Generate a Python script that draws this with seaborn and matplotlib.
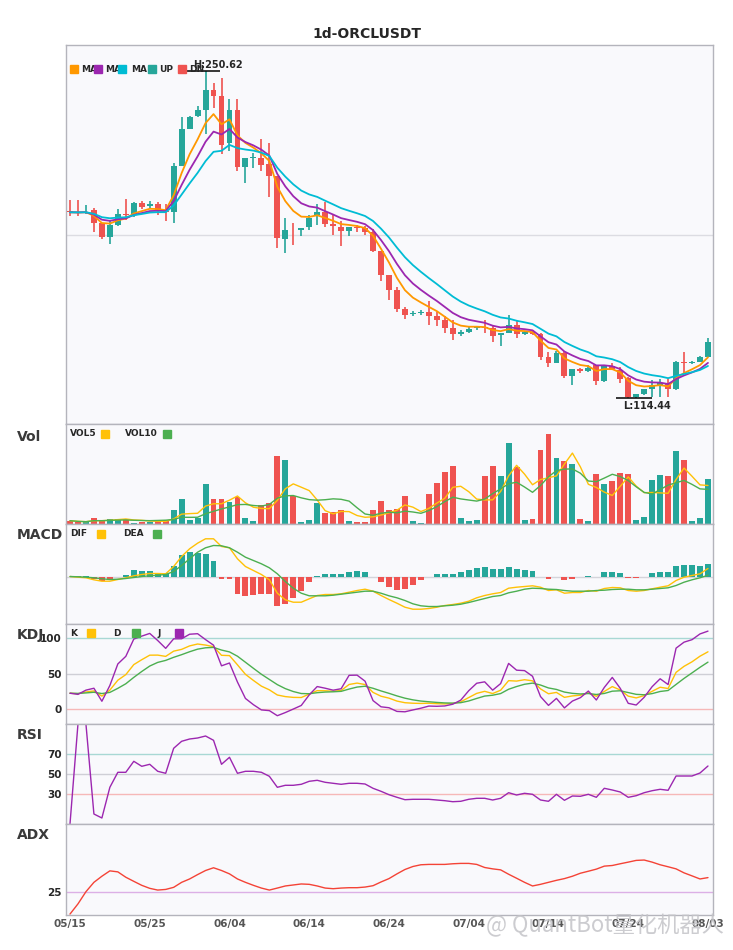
import numpy as np
import pandas as pd
import matplotlib
matplotlib.use("Agg")
import matplotlib.pyplot as plt
from matplotlib.patches import Rectangle
import seaborn as sns

sns.set_theme(style="white")
plt.rcParams["font.family"] = ["DejaVu Sans", "Noto Sans CJK SC"]

SYMBOL = "ORCLUSDT"
INTERVAL = "1d"
dates = pd.date_range("2025-05-15", "2025-08-03", freq="D")

# ---------------------------------------------------------------------------
# daily candles
# ---------------------------------------------------------------------------
opens = [192.2, 191.7, 191.5, 192.85, 187.3, 181.3, 186.6, 191.2, 191.1, 195.6,
         194.6, 195.2, 192.2, 192.1, 211.2, 226.7, 231.8, 234.6, 242.6, 240.2,
         220.7, 234.6, 210.5, 214.4, 214.4, 212.1, 206.8, 180.7, 184.5, 184.2,
         185.5, 190.5, 192.0, 187.1, 185.8, 184.1, 185.8, 185.2, 183.5, 175.7,
         165.7, 159.4, 151.4, 149.3, 149.8, 150.2, 148.6, 146.9, 143.6, 141.2,
         141.9, 143.4, 144.1, 143.4, 140.5, 141.3, 144.8, 140.9, 142.0, 140.9,
         131.3, 129.1, 133.3, 123.5, 126.4, 125.7, 128.1, 121.6, 127.7, 126.0,
         122.6, 114.6, 116.0, 118.1, 119.8, 120.2, 118.1, 129.5, 129.1, 129.5,
         131.6]
highs = [197.0, 197.0, 194.9, 193.6, 187.4, 188.7, 193.3, 197.3, 195.9, 196.7,
         196.6, 195.9, 195.4, 212.4, 231.6, 232.1, 236.0, 250.62, 245.8, 247.6,
         239.1, 238.8, 214.4, 216.5, 222.5, 220.7, 207.0, 189.4, 187.3, 185.3,
         190.8, 195.4, 195.9, 190.5, 188.3, 185.8, 186.6, 186.2, 184.8, 175.7,
         165.7, 160.8, 152.5, 150.8, 151.1, 154.8, 150.4, 148.6, 146.9, 142.9,
         143.9, 144.5, 146.9, 144.5, 141.4, 149.0, 146.6, 142.1, 142.7, 141.3,
         133.7, 134.1, 134.1, 126.4, 126.7, 128.0, 128.1, 128.3, 128.8, 127.2,
         123.0, 116.2, 118.3, 121.8, 122.1, 122.2, 129.9, 133.4, 129.9, 131.7,
         139.5]
lows = [190.3, 190.1, 191.2, 183.4, 180.7, 178.5, 185.9, 188.4, 189.8, 193.3,
        193.6, 190.6, 188.3, 187.5, 210.9, 226.3, 231.6, 224.6, 235.3, 216.2,
        217.5, 208.8, 204.0, 210.3, 209.1, 198.0, 177.1, 175.0, 178.2, 182.1,
        184.2, 186.3, 185.5, 182.4, 177.9, 181.7, 183.5, 182.3, 175.4, 163.3,
        155.3, 150.4, 147.3, 148.6, 149.0, 145.0, 144.5, 141.3, 138.6, 140.2,
        141.3, 142.6, 141.3, 137.6, 136.2, 141.3, 139.3, 140.8, 140.8, 130.2,
        127.4, 128.8, 122.8, 119.8, 124.9, 125.3, 119.8, 121.1, 126.0, 120.5,
        114.44, 114.5, 115.6, 114.6, 114.7, 114.9, 117.7, 124.9, 128.5, 129.2,
        131.3]
closes = [191.8, 191.5, 192.1, 187.3, 181.3, 186.6, 191.2, 190.6, 195.6, 194.2,
          195.2, 192.85, 191.8, 211.2, 226.7, 231.6, 234.6, 242.6, 240.2, 220.0,
          234.6, 210.5, 214.4, 214.8, 211.6, 206.8, 180.9, 184.5, 184.2, 185.2,
          189.6, 192.0, 187.1, 185.9, 184.1, 185.8, 185.2, 183.4, 175.7, 165.7,
          159.4, 151.6, 149.1, 150.0, 150.2, 148.7, 147.0, 143.6, 141.1, 141.9,
          143.2, 144.1, 143.6, 140.3, 141.3, 144.8, 141.1, 142.0, 140.9, 131.3,
          129.1, 133.3, 123.5, 126.4, 125.6, 126.7, 121.6, 128.1, 126.3, 122.3,
          114.6, 116.0, 118.1, 119.8, 120.5, 118.1, 129.5, 129.1, 129.5, 131.6,
          137.8]
# volume, relative units (the chart carries no scale)
volume = [3.3, 2.0, 1.7, 6.3, 3.3, 5.3, 5.3, 5.0, 1.3, 1.5,
          1.7, 4.3, 4.3, 13.7, 25.3, 4.3, 6.0, 40.3, 25.3, 25.3,
          22.3, 26.7, 6.3, 3.3, 19.0, 21.3, 68.3, 64.3, 27.7, 2.3,
          4.3, 21.3, 11.0, 12.0, 14.3, 3.3, 1.7, 2.3, 14.3, 23.3,
          14.3, 15.0, 28.3, 3.3, 1.3, 30.3, 41.3, 52.3, 58.3, 6.3,
          3.3, 4.3, 48.3, 58.3, 48.3, 81.3, 57.0, 4.3, 5.3, 74.3,
          90.3, 66.3, 63.3, 60.3, 5.3, 3.3, 50.3, 40.3, 43.3, 51.3,
          50.3, 4.3, 7.3, 44.3, 49.3, 48.3, 73.3, 64.3, 3.3, 6.3,
          45.3]
# MACD lines and histogram, relative units (no scale on the chart)
dif = [0, -0.7, -1.3, -3.3, -4.7, -4.7, -3.0, -1.3, 0.7, 2.0,
       3.0, 3.0, 2.7, 10.0, 20.0, 27.7, 33.3, 37.7, 37.7, 30.0,
       28.7, 17.7, 10.0, 6.0, 2.0, -3.3, -16.7, -23.3, -25.7, -25.7,
       -22.3, -19.0, -18.0, -18.0, -17.3, -15.7, -14.0, -12.7, -14.7, -19.0,
       -23.0, -26.7, -30.7, -32.7, -32.7, -32.0, -30.7, -29.0, -28.0, -26.7,
       -24.7, -21.3, -19.0, -17.3, -16.0, -11.7, -10.7, -10.0, -9.3, -10.7,
       -14.0, -13.3, -16.7, -16.0, -16.0, -14.0, -14.7, -12.0, -11.0, -11.3,
       -14.0, -14.7, -14.0, -12.3, -10.7, -9.3, -4.0, -0.7, 1.0, 2.7,
       8.0]
dea = [0, -0.3, -0.7, -1.3, -2.3, -3.0, -2.7, -2.0, -1.0, 0,
       0.7, 1.3, 2.0, 5.0, 11.0, 17.7, 24.3, 28.7, 31.0, 30.7,
       28.7, 24.3, 19.3, 16.0, 12.7, 8.7, 2.7, -5.0, -11.7, -16.7,
       -19.3, -19.3, -19.3, -18.7, -17.7, -16.7, -15.7, -14.7, -14.7, -16.7,
       -19.3, -21.3, -24.0, -27.3, -29.3, -30.0, -30.0, -29.3, -28.7, -27.7,
       -26.0, -24.0, -22.0, -20.0, -19.0, -16.3, -14.7, -12.7, -11.7, -12.0,
       -12.7, -13.0, -14.0, -14.7, -14.7, -14.7, -14.0, -13.7, -13.0, -12.7,
       -12.7, -13.3, -13.3, -12.7, -12.0, -11.3, -9.0, -5.7, -3.3, -1.3,
       1.3]
macd_hist = [0, 0.5, 1.0, -2.3, -4.7, -2.7, 0, 2.0, 6.7, 5.3,
             5.3, 2.7, 2.7, 10.3, 21.0, 24.3, 23.3, 22.3, 15.7, -2.3,
             -2.3, -17.3, -19.3, -18.3, -17.3, -17.7, -29.3, -27.3, -21.3, -14.3,
             -5.3, 1.0, 2.3, 2.3, 2.3, 4.3, 5.3, 4.3, 0, -5.3,
             -10.5, -13.3, -12.7, -8.7, -3.3, -0.7, 2.3, 2.3, 2.3, 4.3,
             6.3, 8.3, 9.3, 7.3, 7.3, 9.3, 7.3, 6.3, 5.3, 0,
             -2.3, -0.7, -3.3, -2.3, -0.7, 1.0, 0, 4.3, 4.3, 3.0,
             -1.7, -1.7, 0, 3.0, 4.3, 4.3, 10.0, 11.3, 11.3, 10.3,
             12.3]
rsi = [0, 100, 100, 10, 6, 36.7, 51.7, 51.7, 62.7, 57.7,
       59.7, 52.7, 50.7, 75.7, 82.7, 85, 86, 88, 83.7, 59.7,
       66.7, 50.7, 52.7, 52.7, 51.7, 47.7, 36.7, 38.7, 38.7, 39.7,
       42.7, 43.7, 41.7, 40.7, 39.7, 40.7, 40.7, 40, 35.7, 32.7,
       29.3, 26.7, 24.3, 24.7, 24.7, 24.7, 24, 23.3, 22.3, 22.7,
       24.7, 25.7, 25.7, 24, 25.7, 31.3, 29, 30.7, 29.7, 24,
       22.7, 29.7, 23.7, 28, 27.7, 29.7, 26.7, 35.7, 34, 32,
       26.7, 28.3, 31.3, 33.3, 34.7, 33.7, 48, 48, 48, 51,
       58]
adx = [1, 12.2, 25.6, 35.9, 42.6, 48.5, 47.4, 41.5, 37.0, 32.6,
       29.3, 27.4, 28.1, 30.4, 35.9, 39.6, 44.4, 48.9, 51.9, 48.9,
       45.2, 39.6, 35.9, 32.6, 29.6, 27.4, 29.6, 31.9, 33.0, 34.1,
       33.7, 31.9, 29.6, 28.9, 29.6, 30.0, 30.0, 30.7, 32.2, 36.3,
       40.0, 45.2, 50.0, 53.3, 55.2, 55.6, 55.6, 55.6, 56.3, 56.7,
       56.7, 55.6, 52.2, 50.7, 49.6, 44.8, 40.4, 35.9, 31.9, 33.7,
       35.9, 38.1, 40.0, 42.6, 45.9, 48.1, 50.4, 53.7, 54.4, 56.3,
       58.1, 60.0, 60.4, 58.1, 55.2, 53.0, 50.7, 46.3, 43.0, 39.6,
       41.1]

UP, DN = "#26a69a", "#ef5350"
C_MA = ["#ff9800", "#9c27b0", "#00bcd4"]
C_YEL, C_GRN, C_PUR = "#ffc107", "#4caf50", "#9c27b0"

df = pd.DataFrame({"open": opens, "high": highs, "low": lows, "close": closes,
                   "volume": volume, "dif": dif, "dea": dea, "macd": macd_hist,
                   "rsi": rsi, "adx": adx}, index=dates)
n = len(df)
x = np.arange(n)
bar_colors = np.where(df["close"] >= df["open"], UP, DN)

# moving averages / KDJ derived from the candles
for span in (5, 8, 13):
    df[f"ema{span}"] = df["close"].ewm(span=span, adjust=False).mean()
df["vol5"] = df["volume"].rolling(5, min_periods=1).mean()
df["vol10"] = df["volume"].rolling(10, min_periods=1).mean()
low9 = df["low"].rolling(9, min_periods=1).min()
high9 = df["high"].rolling(9, min_periods=1).max()
rsv = (df["close"] - low9) / (high9 - low9) * 100
df["k"] = rsv.ewm(com=2, adjust=False).mean()
df["d"] = df["k"].ewm(com=2, adjust=False).mean()
df["j"] = 3 * df["k"] - 2 * df["d"]

# ---------------------------------------------------------------------------
# layout
# ---------------------------------------------------------------------------
W, H = 733, 950
fig = plt.figure(figsize=(W / 100, H / 100), dpi=100)
gs = fig.add_gridspec(6, 1, height_ratios=[379, 100, 100, 100, 100, 91], hspace=0,
                      left=66 / W, right=713 / W, top=1 - 45 / H, bottom=1 - 915 / H)
ax0 = fig.add_subplot(gs[0])
axes = [ax0] + [fig.add_subplot(gs[i], sharex=ax0) for i in range(1, 6)]
ax_p, ax_v, ax_m, ax_k, ax_r, ax_a = axes

for ax in axes:
    ax.set_facecolor("#f9f9fc")
    for s in ax.spines.values():
        s.set_color("#b4b4bc")
        s.set_linewidth(1.0)
    ax.tick_params(axis="both", length=0)
    ax.set_yticks([])
ax_p.set_xlim(-0.5, n - 0.37)

# ---- price ----
ax_p.vlines(x, df["low"], df["high"], color=bar_colors, linewidth=1.2, zorder=2)
body = (df["close"] - df["open"]).abs().clip(lower=0.35)
ax_p.bar(x, body, bottom=df[["open", "close"]].min(axis=1), width=0.74,
         color=bar_colors, linewidth=0, zorder=3)
for span, c in zip((5, 8, 13), C_MA):
    sns.lineplot(x=x, y=df[f"ema{span}"].values, ax=ax_p, color=c, linewidth=1.3,
                 legend=False, zorder=4)
hi, lo = df["high"].max(), df["low"].min()
pad = (hi - lo) * 0.08
ax_p.set_ylim(lo - pad, hi + pad)
ax_p.axhline((lo + hi) / 2, color="#dcdce2", linewidth=1, zorder=0)
ih, il = int(df["high"].values.argmax()), int(df["low"].values.argmin())
ax_p.hlines(hi, ih - 2.4, ih + 1.8, color="black", linewidth=1.1, zorder=5)
ax_p.annotate(f"H:{hi:.2f}", xy=(ih - 1.6, hi), xytext=(0, 1), textcoords="offset points",
              ha="left", va="bottom", fontsize=7, fontweight="bold", zorder=6)
ax_p.hlines(lo, il - 1.5, il + 3.0, color="black", linewidth=1.1, zorder=5)
ax_p.annotate(f"L:{lo:.2f}", xy=(il - 0.6, lo), xytext=(0, -2.5), textcoords="offset points",
              ha="left", va="top", fontsize=7, fontweight="bold", zorder=6)

# ---- volume ----
ax_v.bar(x, df["volume"], width=0.74, color=bar_colors, linewidth=0)
sns.lineplot(x=x, y=df["vol5"].values, ax=ax_v, color=C_YEL, linewidth=1.0, legend=False)
sns.lineplot(x=x, y=df["vol10"].values, ax=ax_v, color=C_GRN, linewidth=1.0, legend=False)
ax_v.set_ylim(0, df["volume"].max() * 1.107)

# ---- MACD ----
ax_m.axhline(0, color="#d4d4da", linewidth=1, zorder=0)
ax_m.bar(x, df["macd"], width=0.74, color=np.where(df["macd"] >= 0, UP, DN), linewidth=0)
sns.lineplot(x=x, y=df["dif"].values, ax=ax_m, color=C_YEL, linewidth=1.0, legend=False)
sns.lineplot(x=x, y=df["dea"].values, ax=ax_m, color=C_GRN, linewidth=1.0, legend=False)
mlo = df[["dif", "dea", "macd"]].min().min()
mhi = df[["dif", "dea", "macd"]].max().max()
ax_m.set_ylim(mlo - 0.21 * (mhi - mlo), mhi + 0.21 * (mhi - mlo))

# ---- KDJ ----
for lvl, c in ((100, "#a8d8d4"), (50, "#cfcfd6"), (0, "#f6b8b8")):
    ax_k.axhline(lvl, color=c, linewidth=1, zorder=0)
sns.lineplot(x=x, y=df["k"].values, ax=ax_k, color=C_YEL, linewidth=1.0, legend=False)
sns.lineplot(x=x, y=df["d"].values, ax=ax_k, color=C_GRN, linewidth=1.0, legend=False)
sns.lineplot(x=x, y=df["j"].values, ax=ax_k, color=C_PUR, linewidth=1.0, legend=False)
ax_k.set_ylim(-21, 120)
ax_k.set_yticks([0, 50, 100])

# ---- RSI ----
for lvl, c in ((70, "#a8d8d4"), (50, "#cfcfd6"), (30, "#f6b8b8")):
    ax_r.axhline(lvl, color=c, linewidth=1, zorder=0)
sns.lineplot(x=x, y=df["rsi"].values, ax=ax_r, color=C_PUR, linewidth=1.0, legend=False)
ax_r.set_ylim(0, 100)
ax_r.set_yticks([30, 50, 70])

# ---- ADX ----
ax_a.axhline(25, color="#dcb0e6", linewidth=1, zorder=0)
sns.lineplot(x=x, y=df["adx"].values, ax=ax_a, color="#f44336", linewidth=1.0, legend=False)
ax_a.set_ylim(0, 100)
ax_a.set_yticks([25])

for ax in (ax_k, ax_r, ax_a):
    ax.tick_params(axis="y", length=0, pad=3, labelsize=7.5)
    for t in ax.get_yticklabels():
        t.set_fontweight("bold")

tick_pos = list(range(0, n, 10))
ax_a.set_xticks(tick_pos)
ax_a.set_xticklabels([dates[i].strftime("%m/%d") for i in tick_pos])
for ax in axes[:-1]:
    ax.tick_params(axis="x", labelbottom=False)
ax_a.tick_params(axis="x", length=0, pad=3, labelsize=7.5, labelcolor="#555555")
for t in ax_a.get_xticklabels():
    t.set_fontweight("bold")
for ax in axes:
    ax.set_xlabel("")
    ax.set_ylabel("")

# ---------------------------------------------------------------------------
# titles, panel names, legends
# ---------------------------------------------------------------------------
fig.text(0.5, 1 - 34 / H, f"{INTERVAL}-{SYMBOL}", ha="center", va="center",
         fontsize=10, fontweight="bold")
for name, yp in (("Vol", 437), ("MACD", 535), ("KDJ", 635), ("RSI", 735), ("ADX", 835)):
    fig.text(17 / W, 1 - yp / H, name, ha="left", va="center", fontsize=10,
             fontweight="bold", color="#3a3a3a")


def square(xp, yp, color):
    fig.patches.append(Rectangle((xp / W, 1 - (yp + 4) / H), 8 / W, 8 / H,
                                 transform=fig.transFigure, color=color, zorder=11))


def label(xp, yp, text):
    fig.text(xp / W, 1 - yp / H, text, ha="left", va="center", fontsize=6.5,
             fontweight="bold", zorder=10)


for sx, tx, c, t in ((70, 81, C_MA[0], "MA"), (94, 105, C_MA[1], "MA"),
                     (118, 131, C_MA[2], "MA"), (148, 159, UP, "UP"), (178, 189, DN, "DN")):
    square(sx, 69, c)
    label(tx, 69, t)
for tx, sx, c, t in ((70, 101, C_YEL, "VOL5"), (125, 163, C_GRN, "VOL10")):
    label(tx, 434, t)
    square(sx, 434, c)
for tx, sx, c, t in ((70, 97, C_YEL, "DIF"), (123, 153, C_GRN, "DEA")):
    label(tx, 534, t)
    square(sx, 534, c)
for tx, sx, c, t in ((70, 87, C_YEL, "K"), (113, 132, C_GRN, "D"), (157, 175, C_PUR, "J")):
    label(tx, 633, t)
    square(sx, 633, c)

fig.text(724 / W, 1 - 926 / H, "@ QuantBot量化机器人", ha="right", va="center",
         fontsize=16, color="#c4c4c8", alpha=0.85, family=["Noto Sans CJK SC", "DejaVu Sans"])

fig.savefig("out.png", dpi=100)
